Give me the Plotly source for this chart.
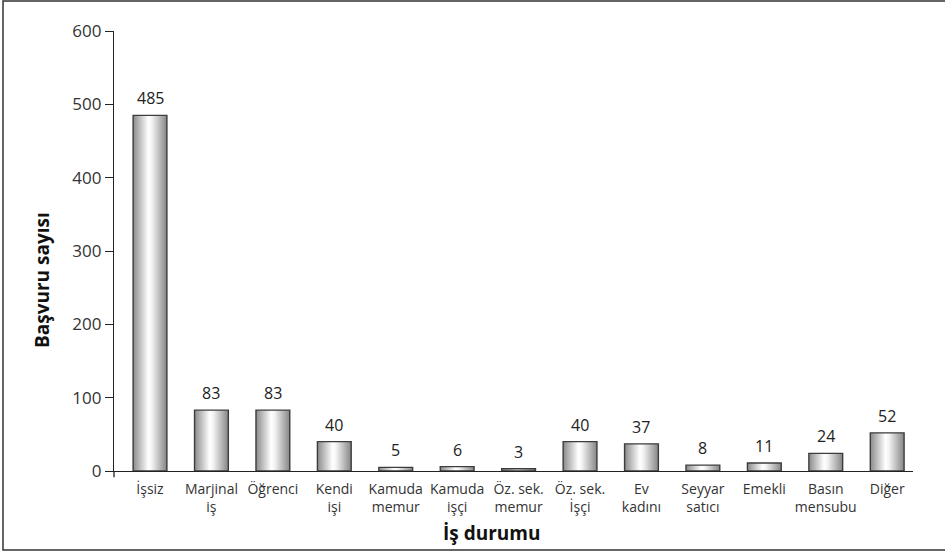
import plotly.graph_objects as go

# Başvuru sayısı by employment status
categories = ["İşsiz", "Marjinal<br>iş", "Öğrenci", "Kendi<br>işi", "Kamuda<br>memur",
              "Kamuda<br>işçi", "Öz. sek.<br>memur", "Öz. sek.<br>İşçi", "Ev<br>kadını",
              "Seyyar<br>satıcı", "Emekli", "Basın<br>mensubu", "Diğer"]
values = [485, 83, 83, 40, 5, 6, 3, 40, 37, 8, 11, 24, 52]
y_ticks = [0, 100, 200, 300, 400, 500, 600]

FONT = "Open Sans"
BAR_HALF = 0.275
fig = go.Figure()

# cylinder-shaded bars: each bar is a closed polygon filled with a horizontal gradient
shade = [[0.0, "#8a8a8a"], [0.45, "#ffffff"], [0.55, "#f4f4f4"], [1.0, "#858585"]]
for i, v in enumerate(values):
    fig.add_trace(go.Scatter(
        x=[i - BAR_HALF, i + BAR_HALF, i + BAR_HALF, i - BAR_HALF, i - BAR_HALF],
        y=[0, 0, v, v, 0],
        mode="lines", fill="toself",
        fillgradient=dict(type="horizontal", colorscale=shade),
        line=dict(color="#3c3c3c", width=1.4),
        hoverinfo="skip", showlegend=False,
    ))

# value labels above the bars
annotations = [
    dict(x=i, y=v, xref="x", yref="y", text=str(v), showarrow=False,
         yanchor="bottom", yshift=4,
         font=dict(family=FONT, size=16, color="#222222"))
    for i, v in enumerate(values)
]

# axis titles
annotations.append(dict(
    x=(491 - 114) / 799, y=(471 - 533) / 440, xref="paper", yref="paper",
    text="<b>İş durumu</b>", showarrow=False, xanchor="center", yanchor="middle",
    font=dict(family=FONT, size=19, color="#111111")))
annotations.append(dict(
    x=(42 - 114) / 799, y=(471 - 280) / 440, xref="paper", yref="paper",
    text="<b>Başvuru sayısı</b>", showarrow=False, textangle=-90,
    xanchor="center", yanchor="middle",
    font=dict(family=FONT, size=19, color="#111111")))

fig.update_layout(
    width=945, height=552,
    margin=dict(l=114, r=32, t=31, b=81),
    paper_bgcolor="white", plot_bgcolor="white",
    font=dict(family=FONT, color="#222222"),
    annotations=annotations,
    xaxis=dict(
        range=[-0.586, 12.42], tickvals=list(range(len(categories))), ticktext=categories,
        ticks="", showgrid=False, zeroline=False, showline=True,
        linecolor="#222222", linewidth=1.3, ticklabelstandoff=5,
        tickfont=dict(family=FONT, size=14, color="#333333"),
    ),
    yaxis=dict(
        range=[0, 600], tickvals=y_ticks, ticks="outside", ticklen=8, tickwidth=1.3,
        tickcolor="#222222", showgrid=False, zeroline=False, showline=True,
        linecolor="#222222", linewidth=1.3,
        tickfont=dict(family=FONT, size=17, color="#333333"),
    ),
    shapes=[
        # small tick extending the y axis below the category axis
        dict(type="line", xref="paper", yref="paper", x0=0, x1=0, y0=0, y1=-0.014,
             line=dict(color="#222222", width=1.3)),
        # frame around the whole chart
        dict(type="rect", xref="paper", yref="paper",
             x0=(3 - 114) / 799, x1=(950 - 114) / 799,
             y0=(471 - 550) / 440, y1=(471 - 1) / 440,
             line=dict(color="#333333", width=1.5), fillcolor="rgba(0,0,0,0)", layer="below"),
    ],
)

fig.write_html("out.html")
